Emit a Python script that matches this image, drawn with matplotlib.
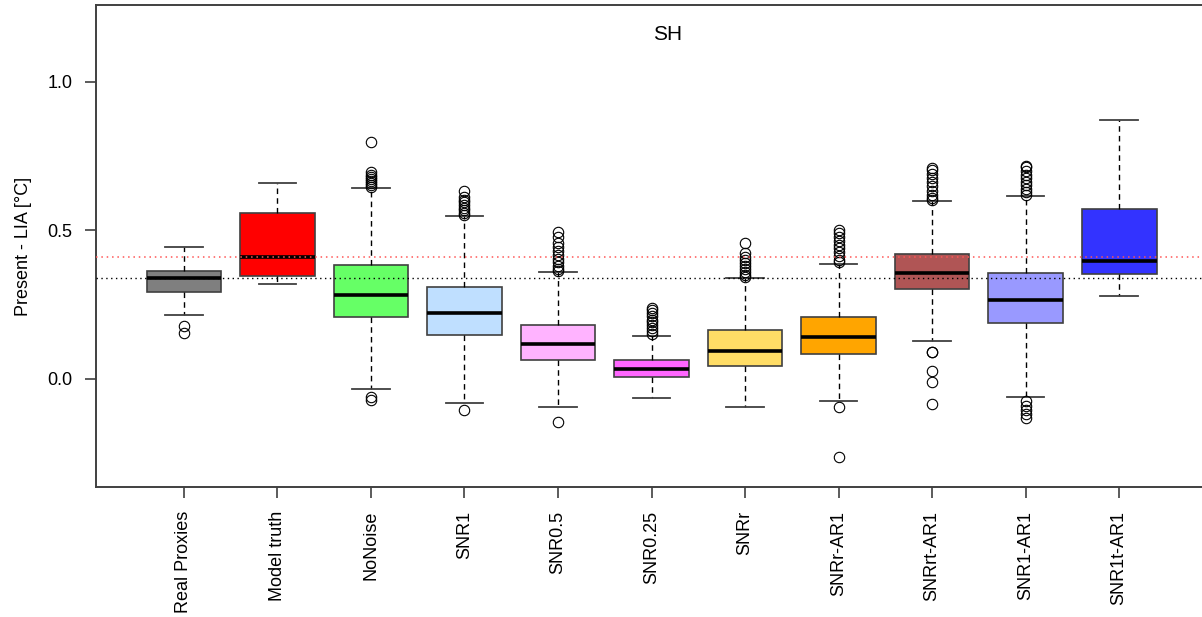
import matplotlib
matplotlib.use("Agg")
import matplotlib.pyplot as plt

plt.rcParams['font.family'] = ['Liberation Sans', 'DejaVu Sans']

# categories and box colours
labels = ['Real Proxies', 'Model truth', 'NoNoise', 'SNR1', 'SNR0.5', 'SNR0.25',
          'SNRr', 'SNRr-AR1', 'SNRrt-AR1', 'SNR1-AR1', 'SNR1t-AR1']
colors = ['#7f7f7f', '#ff0000', '#66ff66', '#bfdfff', '#ffb3ff', '#ff66ff',
          '#ffdd66', '#ffa500', '#b05555', '#9999ff', '#3333ff']

# box statistics
medians = [0.340, 0.410, 0.284, 0.221, 0.119, 0.034, 0.093, 0.140, 0.355, 0.267, 0.397]
q1 = [0.292, 0.346, 0.208, 0.149, 0.065, 0.007, 0.044, 0.085, 0.302, 0.189, 0.354]
q3 = [0.362, 0.560, 0.383, 0.310, 0.183, 0.063, 0.164, 0.208, 0.420, 0.358, 0.573]
whis_lo = [0.214, 0.320, -0.033, -0.081, -0.094, -0.066, -0.093, -0.074, 0.127, -0.060, 0.280]
whis_hi = [0.444, 0.660, 0.644, 0.548, 0.361, 0.145, 0.341, 0.388, 0.600, 0.616, 0.873]

# outliers (dense clusters read as a run of points)
fliers = [
    [0.178, 0.156],
    [],
    [0.797, 0.695, 0.688, 0.680, 0.672, 0.665, 0.658, 0.652, 0.647, -0.062, -0.071],
    [0.634, 0.614, 0.604, 0.595, 0.586, 0.577, 0.568, 0.560, 0.552, -0.104],
    [0.495, 0.479, 0.458, 0.445, 0.430, 0.418, 0.405, 0.393, 0.380, 0.370, 0.364, -0.145],
    [0.238, 0.232, 0.222, 0.212, 0.200, 0.190, 0.180, 0.170, 0.160, 0.150],
    [0.456, 0.425, 0.412, 0.400, 0.390, 0.380, 0.370, 0.360, 0.350, 0.344],
    [0.502, 0.491, 0.478, 0.465, 0.452, 0.440, 0.428, 0.415, 0.402, 0.392, -0.095, -0.263],
    [0.711, 0.704, 0.690, 0.676, 0.662, 0.648, 0.634, 0.620, 0.608, 0.603,
     0.092, 0.089, 0.025, -0.010, -0.083],
    [0.717, 0.713, 0.700, 0.688, 0.676, 0.664, 0.652, 0.640, 0.628, 0.619,
     -0.076, -0.090, -0.104, -0.118, -0.132],
    [],
]

ref_black = 0.340
ref_red = 0.411

stats = []
for i in range(len(labels)):
    stats.append({'med': medians[i], 'q1': q1[i], 'q3': q3[i],
                  'whislo': whis_lo[i], 'whishi': whis_hi[i],
                  'fliers': fliers[i], 'label': labels[i]})

fig = plt.figure(figsize=(12.02, 6.17), dpi=100)
ax = fig.add_axes([96 / 1202, 1 - 487 / 617, (1207 - 96) / 1202, (487 - 5) / 617])

edge = '#404040'
bp = ax.bxp(stats, positions=range(1, len(labels) + 1), widths=0.8,
            patch_artist=True, showfliers=True, capwidths=0.4,
            boxprops=dict(edgecolor=edge, linewidth=1.2),
            medianprops=dict(color='black', linewidth=2.6, solid_capstyle='butt'),
            whiskerprops=dict(color='black', linewidth=1.0, linestyle=(0, (4, 3))),
            capprops=dict(color=edge, linewidth=1.3),
            flierprops=dict(marker='o', markersize=7.5, markerfacecolor='none',
                            markeredgecolor='black', markeredgewidth=0.8))
for patch, c in zip(bp['boxes'], colors):
    patch.set_facecolor(c)

# reference lines drawn over the boxes
ax.axhline(ref_red, color='#ff5555', linestyle=(0, (1, 2.5)), linewidth=1.1, zorder=5)
ax.axhline(ref_black, color='black', linestyle=(0, (1, 2.5)), linewidth=1.0, zorder=5)

ax.set_xlim(0.06, 11.94)
ax.set_ylim(-0.364, 1.259)
ax.set_yticks([0.0, 0.5, 1.0])
ax.set_yticklabels(['0.0', '0.5', '1.0'])
ax.set_xticks(range(1, len(labels) + 1))
ax.set_xticklabels(labels, rotation=90, va='top', ha='center')

ax.tick_params(axis='both', direction='out', length=8, width=1.2, color=edge,
               labelsize=13, pad=9)
for s in ax.spines.values():
    s.set_color(edge)
    s.set_linewidth(1.4)

ax.set_ylabel('Present - LIA [°C]', fontsize=13, labelpad=11)
ax.text(6.17, 1.158, 'SH', fontsize=15, ha='center', va='center')

plt.savefig('out.png', dpi=100)
